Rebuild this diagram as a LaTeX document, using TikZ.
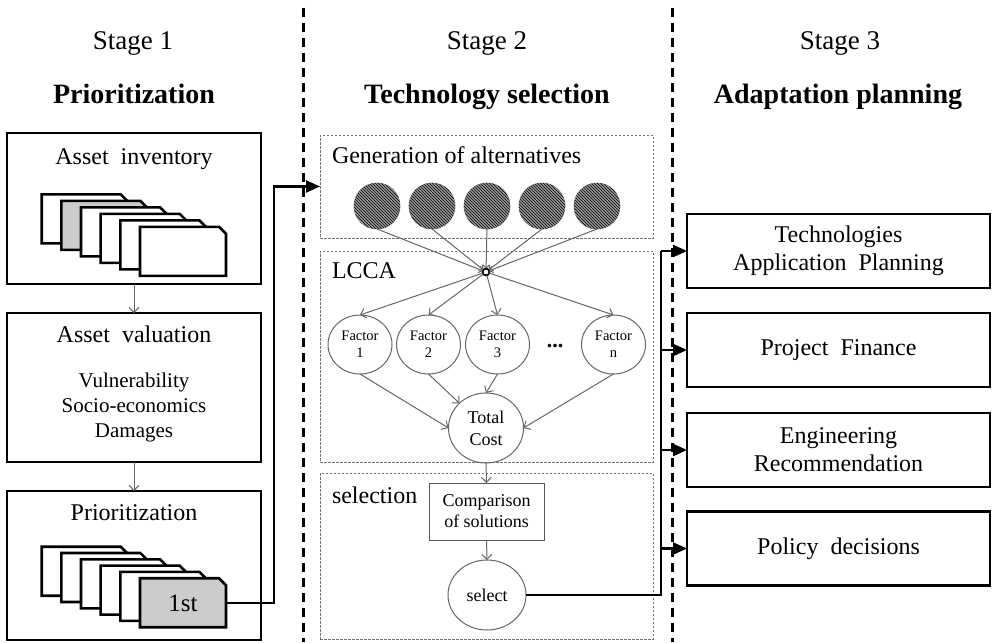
\documentclass[tikz,border=0pt]{standalone}
\usepackage{fontspec}
\setmainfont{Liberation Serif}
\usetikzlibrary{arrows.meta,shapes.geometric,patterns}
\newcommand\myfs[2]{\fontsize{#1}{#2}\selectfont}
\newcommand\drawcard[3]{%
  \draw[line width=2.6pt, fill=#3, line join=miter] (#1,#2) -- ++(79,0) -- ++(7,7) -- ++(0,42) -- ++(-86,0) -- cycle;}
\begin{document}
\begin{tikzpicture}[x=1pt,y=-1pt,
  every node/.style={inner sep=0pt, outer sep=0pt},
  thinln/.style={draw=black!60, line width=1pt},
  thinarrow/.style={thinln, -{Straight Barb[length=5pt,width=10pt]}},
  smallarrow/.style={thinln, -{Straight Barb[length=3pt,width=7pt]}},
  bigline/.style={line width=2.4pt, draw=black},
  bigarrow/.style={bigline, -{Triangle[length=14pt,width=12pt]}},
  mainbox/.style={draw=black, line width=2.8pt, minimum width=254pt, minimum height=150pt},
  rbox/.style={draw=black, line width=2.8pt, minimum width=303pt, minimum height=74pt, align=center, font=\myfs{24}{28}},
  dotbox/.style={draw=black!55, line width=0.9pt, dash pattern=on 2.5pt off 1.5pt, minimum width=333pt},
  divider/.style={line width=3pt, dash pattern=on 9pt off 6pt},
  alt/.style={circle, minimum size=46pt, draw=black!50, line width=0.8pt, fill=black!40, postaction={pattern=north west lines, pattern color=black}},
  factor/.style={ellipse, draw=black!60, line width=1pt, minimum width=64pt, minimum height=59pt, align=center, font=\myfs{14.5}{17}},
  bigell/.style={ellipse, draw=black!60, line width=1pt, align=center, font=\myfs{18}{22}},
  stagetxt/.style={anchor=base, font=\myfs{27}{32}},
  headtxt/.style={anchor=base, font=\myfs{28}{32}\bfseries},
  lbl/.style={anchor=base, font=\myfs{24}{28}},
  sub/.style={anchor=base, font=\myfs{21}{25}},
]
\useasboundingbox (0,0) rectangle (992,642);
\fill[white] (0,0) rectangle (992,642);

% dividers
\draw[divider] (303,8) -- (303,642);
\draw[divider] (672,8) -- (672,642);

% titles
\node[stagetxt] (t1) at (133,50) {Stage 1};
\node[headtxt] (h1) at (134,103) {Prioritization};
\node[stagetxt] (t2) at (487,50) {Stage 2};
\node[headtxt] (h2) at (487,103) {Technology selection};
\node[stagetxt] (t3) at (840,50) {Stage 3};
\node[headtxt] (h3) at (838,103) {Adaptation planning};

% Stage 1 boxes
\node[mainbox, minimum height=151pt] (inv) at (134,208.5) {};
\node[lbl] (invt) at (134,164) {Asset\ \ inventory};
\foreach \i in {0,...,5}{
  \pgfmathsetmacro\cx{41.7+19.66*\i}
  \pgfmathsetmacro\cy{194.3+6.5*\i}
  \ifnum\i=1 \drawcard{\cx}{\cy}{black!20}\else\drawcard{\cx}{\cy}{white}\fi
}

\node[mainbox, minimum height=149pt] (val) at (134,387.5) {};
\node[lbl] (valt) at (134,342) {Asset\ \ valuation};
\node[sub] (v1) at (134,387) {Vulnerability};
\node[sub] (v2) at (134,412) {Socio-economics};
\node[sub] (v3) at (134,437) {Damages};

\node[mainbox, minimum height=149pt] (pri) at (134,565.5) {};
\node[lbl] (prit) at (134,520) {Prioritization};
\foreach \i in {0,...,5}{
  \pgfmathsetmacro\cx{41.7+19.66*\i}
  \pgfmathsetmacro\cy{546.7+6.3*\i}
  \ifnum\i=5 \drawcard{\cx}{\cy}{black!20}\else\drawcard{\cx}{\cy}{white}\fi
}
\node[minimum width=86pt, minimum height=49pt, font=\myfs{25}{28}] (first) at (183,603) {1st};

\draw[thinarrow] (inv.south) -- (val.north);
\draw[thinarrow] (val.south) -- (pri.north);

% Stage 2 containers
\node[dotbox, minimum height=103pt] (gen) at (486.5,186.5) {};
\node[lbl, anchor=base west] (gent) at (332,163) {Generation\ of alternatives};
\node[dotbox, minimum height=211pt] (lcca) at (486.5,356.5) {};
\node[lbl, anchor=base west] (lccat) at (332,278) {LCCA};
\node[dotbox, minimum height=166pt] (selb) at (486.5,556) {};
\node[lbl, anchor=base west] (selt) at (332,503) {selection};

% connector from stage 1
\coordinate (lcx) at (274,0);
\draw[bigarrow] (first.east) -- (first.east -| lcx) |- (gen.west);

% alternatives
\node[alt] (a1) at (377,206) {};
\node[alt] (a2) at (432,206) {};
\node[alt] (a3) at (487,206) {};
\node[alt] (a4) at (542,206) {};
\node[alt] (a5) at (597,206) {};
\node[circle, draw=black, fill=white, line width=1.8pt, minimum size=7pt] (hub) at (486,272) {};
\foreach \a in {a1,a2,a3,a4,a5}{ \draw[smallarrow] (\a.south) -- (hub); }

% factors
\node[factor] (f1) at (360,344.5) {Factor\\1};
\node[factor] (f2) at (428.5,344.5) {Factor\\2};
\node[factor] (f3) at (497.5,344.5) {Factor\\3};
\node[anchor=base, font=\myfs{22}{24}\bfseries] (dots) at (555,347) {...};
\node[factor] (fn) at (613.5,344.5) {Factor\\n};
\foreach \f in {f1,f2,f3,fn}{ \draw[thinarrow] (hub) -- (\f.north); }

\node[bigell, minimum width=75pt, minimum height=70pt] (tc) at (486,428) {Total\\Cost};
\draw[thinarrow] (f1.south) -- (tc.west);
\draw[thinarrow] (f2.south) -- (tc.north west);
\draw[thinarrow] (f3.south) -- (tc.north);
\draw[thinarrow] (fn.south) -- (tc.east);

\node[draw=black!65, line width=1pt, minimum width=115pt, minimum height=57pt, align=center, font=\myfs{18}{21}] (cmp) at (486.5,511.5) {Comparison\\of solutions};
\draw[thinarrow] (tc.south) -- (cmp.north);
\node[bigell, minimum width=78pt, minimum height=70pt] (sel) at (487,595) {select};
\draw[thinarrow] (cmp.south) -- (sel.north);

% Stage 3 boxes
\node[rbox] (s1) at (838.5,251) {Technologies\\Application\ \ Planning};
\node[rbox] (s2) at (838.5,350) {Project\ \ Finance};
\node[rbox] (s3) at (838.5,450) {Engineering\\Recommendation};
\node[rbox] (s4) at (838.5,548.5) {Policy\ \ decisions};

\coordinate (bus) at (661,0);
\draw[bigline] (sel.east) -- (sel.east -| bus) -- (s1.west -| bus);
\draw[bigarrow] (s1.west -| bus) -- (s1.west);
\draw[bigarrow] (s2.west -| bus) -- (s2.west);
\draw[bigarrow] (s3.west -| bus) -- (s3.west);
\draw[bigarrow] (s4.west -| bus) -- (s4.west);
\end{tikzpicture}
\end{document}
